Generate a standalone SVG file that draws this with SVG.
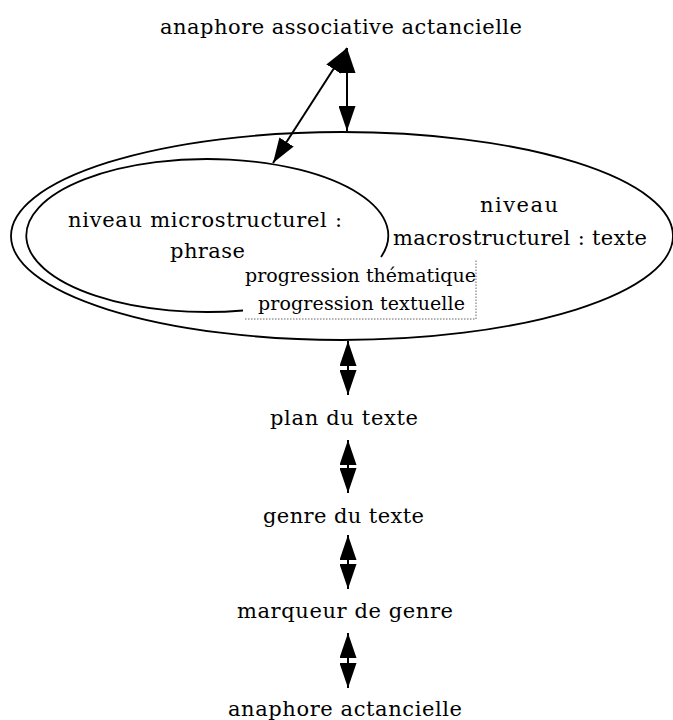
<svg xmlns="http://www.w3.org/2000/svg" width="673" height="720" viewBox="0 0 673 720">
<style>
  .lbl { font-family: "DejaVu Serif", serif; font-size: 21px; fill: #000; }
  .small { font-family: "DejaVu Serif", serif; font-size: 19px; fill: #000; }
  .shape { fill: none; stroke: #000; stroke-width: 1.8; }
  .edge { fill: none; stroke: #000; stroke-width: 2; marker-start: url(#arrow); marker-end: url(#arrow); }
  .dotted { fill: none; stroke: #555; stroke-width: 0.9; stroke-dasharray: 1.5 1.5; }
</style>
<defs>
  <marker id="arrow" viewBox="0 0 25 17" refX="25" refY="8.5" markerWidth="25" markerHeight="17" markerUnits="userSpaceOnUse" orient="auto-start-reverse">
    <path d="M0,0 L25,8.5 L0,17 z" fill="#000"/>
  </marker>
</defs>
<rect width="673" height="720" fill="#fff"/>

<g id="node-anaphore-associative">
  <text class="lbl" x="160" y="34" textLength="362" lengthAdjust="spacing">anaphore associative actancielle</text>
</g>

<g id="node-macro">
  <ellipse class="shape" cx="342" cy="236" rx="331" ry="104"/>
  <text class="lbl" x="480" y="212" textLength="78" lengthAdjust="spacing">niveau</text>
  <text class="lbl" x="393" y="245" textLength="254" lengthAdjust="spacing">macrostructurel : texte</text>
</g>

<g id="node-micro">
  <path class="shape" d="M381,257 A181,76.5 0 1 0 243,310.5"/>
  <text class="lbl" x="68" y="227" textLength="274" lengthAdjust="spacing">niveau microstructurel :</text>
  <text class="lbl" x="170" y="258" textLength="75" lengthAdjust="spacing">phrase</text>
</g>

<g id="node-progression">
  <path class="dotted" d="M245,319 H476 V260"/>
  <text class="small" x="245" y="282" textLength="231" lengthAdjust="spacing">progression thématique</text>
  <text class="small" x="258" y="310" textLength="207" lengthAdjust="spacing">progression textuelle</text>
</g>

<g id="node-plan">
  <text class="lbl" x="270" y="425" textLength="148" lengthAdjust="spacing">plan du texte</text>
</g>

<g id="node-genre">
  <text class="lbl" x="263" y="523" textLength="161" lengthAdjust="spacing">genre du texte</text>
</g>

<g id="node-marqueur">
  <text class="lbl" x="237" y="618" textLength="216" lengthAdjust="spacing">marqueur de genre</text>
</g>

<g id="node-anaphore-actancielle">
  <text class="lbl" x="228" y="716" textLength="234" lengthAdjust="spacing">anaphore actancielle</text>
</g>

<g id="connectors">
  <line class="edge" x1="273" y1="163" x2="347" y2="48"/>
  <line class="edge" x1="347" y1="48" x2="347" y2="131"/>
  <line class="edge" x1="348" y1="341" x2="348" y2="395"/>
  <line class="edge" x1="348" y1="440" x2="348" y2="493"/>
  <line class="edge" x1="348" y1="535" x2="348" y2="589"/>
  <line class="edge" x1="348" y1="633" x2="348" y2="688"/>
</g>
</svg>
